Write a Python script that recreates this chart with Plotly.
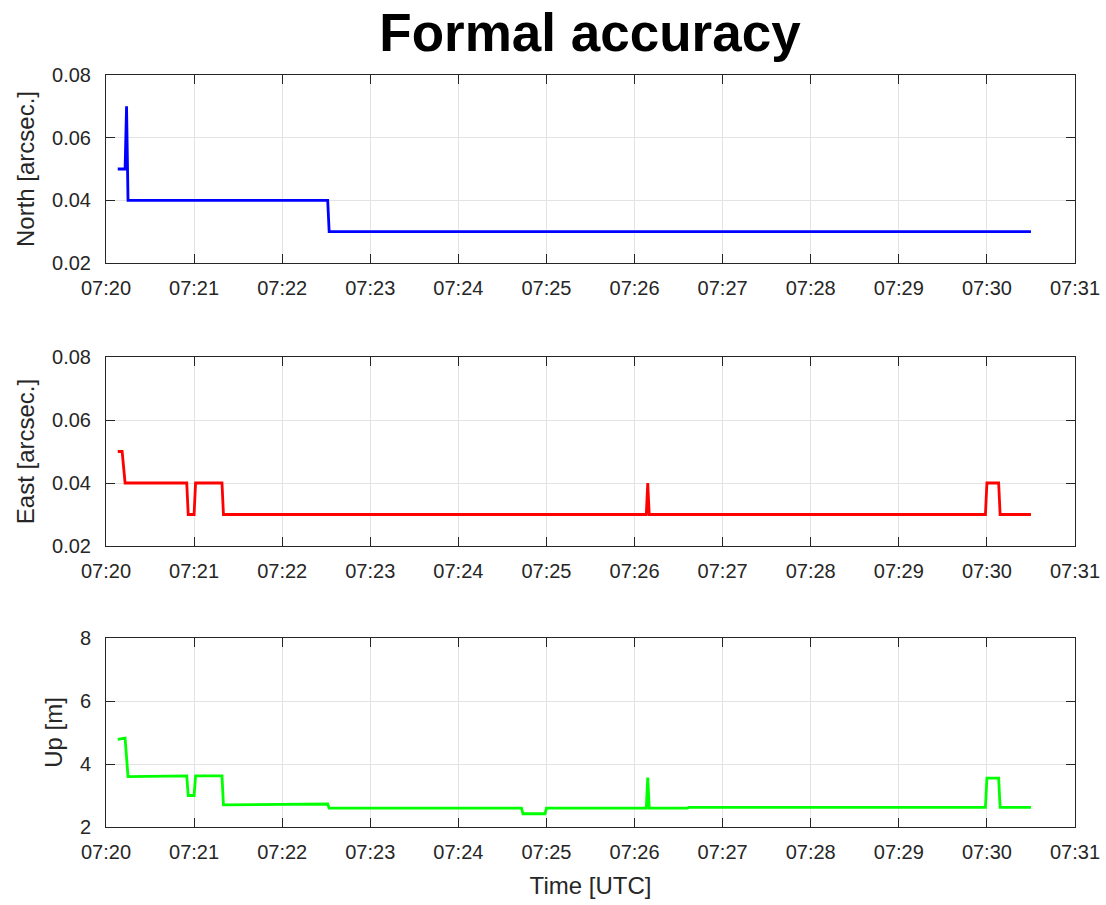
import pandas as pd
import plotly.graph_objects as go
from plotly.subplots import make_subplots

DAY = "2020-01-01 "

# North formal accuracy [arcsec.]
north_t = ["07:20:08", "07:20:13", "07:20:14", "07:20:15", "07:22:31", "07:22:32", "07:30:30"]
north_v = [0.05, 0.05, 0.07, 0.04, 0.04, 0.03, 0.03]

# East formal accuracy [arcsec.]
east_t = ["07:20:08", "07:20:11", "07:20:13", "07:20:55", "07:20:56", "07:21:00", "07:21:01",
          "07:21:19", "07:21:20", "07:26:08", "07:26:09", "07:26:10", "07:29:59", "07:30:00",
          "07:30:08", "07:30:09", "07:30:30"]
east_v = [0.05, 0.05, 0.04, 0.04, 0.03, 0.03, 0.04,
          0.04, 0.03, 0.03, 0.04, 0.03, 0.03, 0.04,
          0.04, 0.03, 0.03]

# Up formal accuracy [m]
up_t = ["07:20:08", "07:20:13", "07:20:15", "07:20:55", "07:20:56", "07:21:00", "07:21:01",
        "07:21:19", "07:21:20", "07:22:31", "07:22:32", "07:24:43", "07:24:44", "07:24:59",
        "07:25:00", "07:26:08", "07:26:09", "07:26:10", "07:26:36", "07:26:37", "07:29:59",
        "07:30:00", "07:30:08", "07:30:09", "07:30:30"]
up_v = [4.78, 4.82, 3.60, 3.62, 3.00, 3.00, 3.62,
        3.62, 2.70, 2.73, 2.60, 2.60, 2.42, 2.42,
        2.60, 2.60, 3.57, 2.60, 2.60, 2.62, 2.62,
        3.55, 3.55, 2.62, 2.62]

panels = [
    (north_t, north_v, "#0000FF", "North [arcsec.]", [0.02, 0.08], [0.02, 0.04, 0.06, 0.08], ["0.02", "0.04", "0.06", "0.08"]),
    (east_t, east_v, "#FF0000", "East [arcsec.]", [0.02, 0.08], [0.02, 0.04, 0.06, 0.08], ["0.02", "0.04", "0.06", "0.08"]),
    (up_t, up_v, "#00FF00", "Up [m]", [2, 8], [2, 4, 6, 8], ["2", "4", "6", "8"]),
]

x_ticks = [f"07:{m:02d}" for m in range(20, 32)]

W, H = 1106, 905
x_dom = [106 / W, 1075 / W]
y_doms = [[1 - 263 / H, 1 - 75 / H], [1 - 546 / H, 1 - 357 / H], [1 - 827 / H, 1 - 638 / H]]

fig = make_subplots(rows=3, cols=1)
font_col = "#262626"
tick_font = dict(family="Liberation Sans", size=20, color=font_col)
label_font = dict(family="Liberation Sans", size=24, color=font_col)

for i, (t, v, col, ylab, yr, yt, ytl) in enumerate(panels, start=1):
    fig.add_trace(
        go.Scatter(x=pd.to_datetime([DAY + s for s in t]), y=v, mode="lines",
                   line=dict(color=col, width=2.8), showlegend=False),
        row=i, col=1)
    fig.update_xaxes(
        row=i, col=1, domain=x_dom, type="date",
        range=[DAY + "07:20:00", DAY + "07:31:00"],
        tickvals=[DAY + s for s in x_ticks], ticktext=x_ticks,
        showgrid=True, gridcolor="#E3E3E3", gridwidth=1,
        showline=True, linecolor=font_col, linewidth=1, mirror="ticks",
        ticks="inside", ticklen=9, tickcolor=font_col, tickwidth=1,
        tickfont=tick_font, ticklabelstandoff=7, zeroline=False, automargin=False,
    )
    fig.update_yaxes(
        row=i, col=1, domain=y_doms[i - 1], range=yr,
        tickvals=yt, ticktext=ytl,
        showgrid=True, gridcolor="#E3E3E3", gridwidth=1,
        showline=True, linecolor=font_col, linewidth=1, mirror="ticks",
        ticks="inside", ticklen=9, tickcolor=font_col, tickwidth=1,
        tickfont=tick_font, ticklabelstandoff=10, zeroline=False, automargin=False,
        title=dict(text=ylab, font=label_font, standoff=10),
    )

fig.update_xaxes(row=3, col=1, title=dict(text="Time [UTC]", font=label_font, standoff=15))

fig.update_layout(
    width=W, height=H,
    margin=dict(l=0, r=0, t=0, b=0),
    paper_bgcolor="white", plot_bgcolor="white",
    title=dict(text="<b>Formal accuracy</b>", xref="paper", x=590 / W, xanchor="center",
               yref="container", y=1 - 32 / H, yanchor="middle",
               font=dict(family="Liberation Sans", size=53, color="black")),
)

fig.write_html("out.html")
